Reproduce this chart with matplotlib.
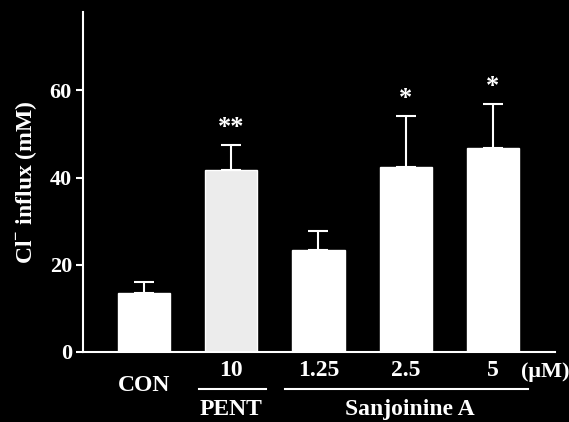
import matplotlib
matplotlib.use('Agg')
from matplotlib import pyplot as plt
from matplotlib import transforms

# data
groups = ['CON', '10', '1.25', '2.5', '5']
means = [13.5, 41.7, 23.4, 42.4, 46.7]
errs = [2.5, 5.7, 4.3, 11.6, 10.1]
stars = ['', '**', '', '*', '*']

plt.rcParams['font.family'] = ['Liberation Serif', 'DejaVu Serif']
plt.rcParams['font.weight'] = 'bold'
plt.rcParams['mathtext.fontset'] = 'custom'
plt.rcParams['mathtext.rm'] = 'Liberation Serif:bold'
plt.rcParams['mathtext.bf'] = 'Liberation Serif:bold'

fig = plt.figure(figsize=(5.69, 4.22), dpi=100, facecolor='black')
ax = fig.add_axes([0.146, 0.166, 0.829, 0.806], facecolor='black')

x = list(range(len(groups)))
cols = ['white', '#ececec', 'white', 'white', 'white']
ax.errorbar(x, means, yerr=[[0]*len(errs), errs], fmt='none', ecolor='white',
            elinewidth=1.5, capsize=7.5, capthick=1.5, zorder=1)
ax.bar(x, means, width=0.6, color=cols, edgecolor='white', zorder=2)

for xi, m, e, s in zip(x, means, errs, stars):
    if s:
        ax.text(xi, m + e + 1.5, s, color='white', ha='center', va='bottom', fontsize=19)

ax.set_xlim(-0.70, 4.71)
ax.set_ylim(0, 78)
ax.set_yticks([0, 20, 40, 60])
ax.set_xticks([])
for sp in ['top', 'right']:
    ax.spines[sp].set_visible(False)
for sp in ['left', 'bottom']:
    ax.spines[sp].set_color('white')
    ax.spines[sp].set_linewidth(1.5)
ax.tick_params(axis='y', colors='white', direction='out', length=5, width=1.5, labelsize=16, pad=3)
for lab in ax.get_yticklabels():
    lab.set_fontweight('bold')

ax.set_ylabel('Cl$^{-}$ influx (mM)', color='white', fontsize=17, fontweight='bold', labelpad=8)

tr = transforms.blended_transform_factory(ax.transData, ax.transAxes)
ax.text(x[0], -0.10, groups[0], transform=tr, ha='center', va='center', color='white', fontsize=17)
for xi, g in zip(x[1:], groups[1:]):
    ax.text(xi, -0.055, g, transform=tr, ha='center', va='center', color='white', fontsize=17)
ax.text(4.6, -0.06, '(\u03bcM)', transform=tr, ha='center', va='center', color='white', fontsize=16,
        family=['Liberation Serif', 'DejaVu Serif'])

ax.plot([0.63, 1.4], [-0.11, -0.11], transform=tr, color='white', lw=1.5, clip_on=False)
ax.plot([1.62, 4.4], [-0.11, -0.11], transform=tr, color='white', lw=1.5, clip_on=False)
ax.text(1, -0.168, 'PENT', transform=tr, ha='center', va='center', color='white', fontsize=17)
ax.text(3.05, -0.168, 'Sanjoinine A', transform=tr, ha='center', va='center', color='white', fontsize=17)

fig.savefig('out.png', dpi=100, facecolor='black')
